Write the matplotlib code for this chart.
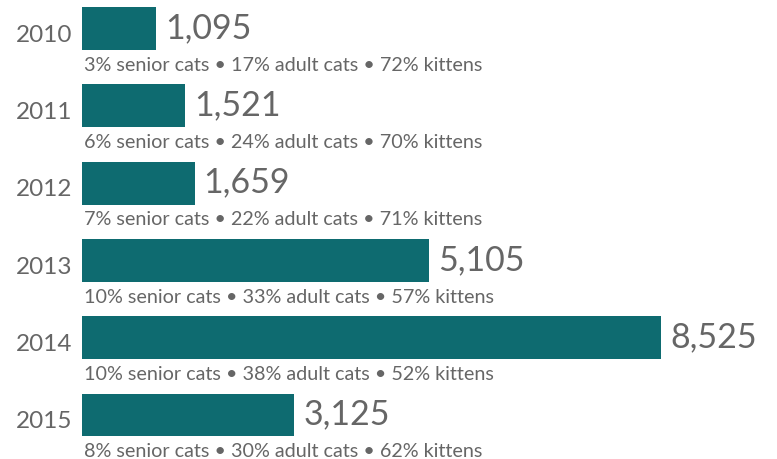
import matplotlib.pyplot as plt
import numpy as np

plt.rcParams['font.family'] = ['Lato', 'DejaVu Sans']

years = ['2010', '2011', '2012', '2013', '2014', '2015']
cats = [1095, 1521, 1659, 5105, 8525, 3125]
senior = [3, 6, 7, 10, 10, 8]
adult = [17, 24, 22, 33, 38, 30]
kittens = [72, 70, 71, 57, 52, 62]

bar_color = '#0e6b70'
text_color = '#666666'

fig = plt.figure(figsize=(7.77, 4.60), dpi=100)
ax = fig.add_axes([0, 0, 1, 1])

# one pixel in data units along x
px = 8525 / 579
y = np.arange(len(years))
ax.barh(y, cats, height=0.556, color=bar_color)

for i in range(len(years)):
    ax.text(-66 * px, i + 0.16, years[i], fontsize=17.5, color=text_color, va='baseline', ha='left')
    ax.text(cats[i] + 9 * px, i + 0.11, f"{cats[i]:,}", fontsize=24.5, color=text_color, va='baseline', ha='left')
    sub = f"{senior[i]}% senior cats \u2022 {adult[i]}% adult cats \u2022 {kittens[i]}% kittens"
    ax.text(1.5 * px, i + 0.535, sub, fontsize=14.2, color=text_color, va='baseline', ha='left')

ax.set_xlim(-82 * px, (777 - 82) * px)
ax.set_ylim((460 - 29.5) / 77.3, -29.5 / 77.3)
ax.axis('off')

fig.savefig('out.png', dpi=100)
